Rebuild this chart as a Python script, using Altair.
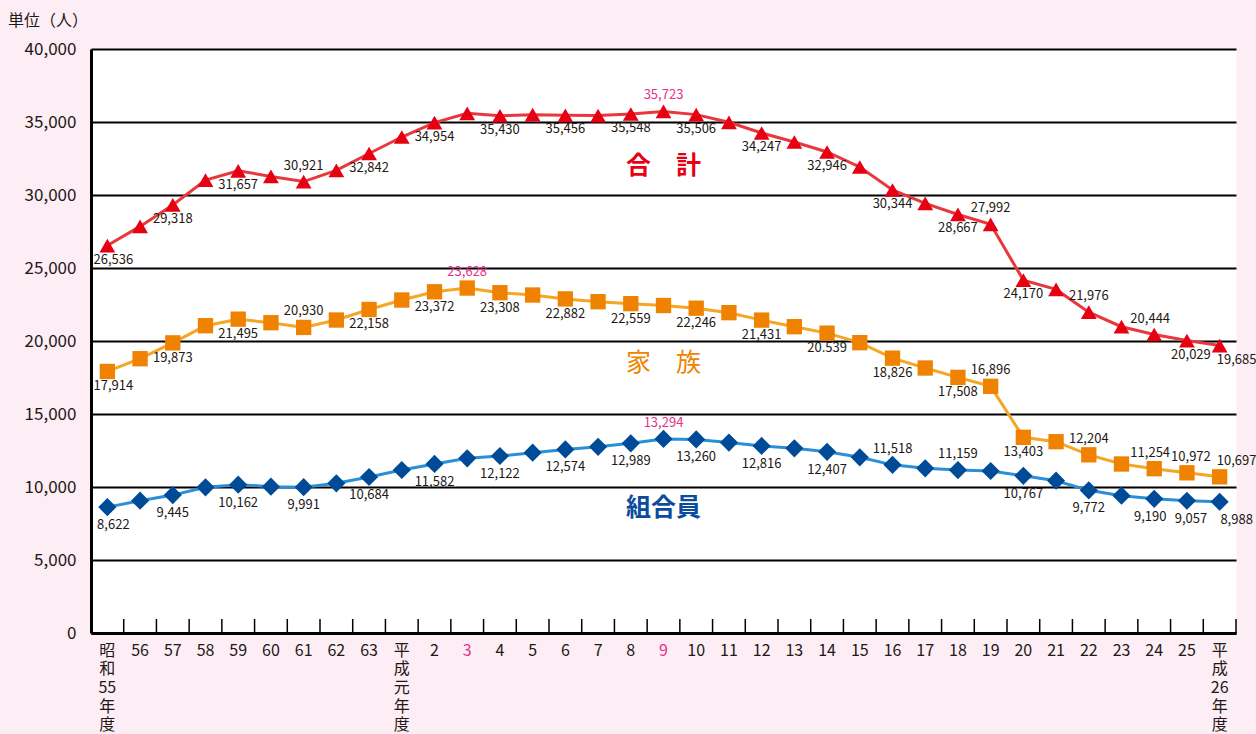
import altair as alt
import pandas as pd

years = ["昭和55年度", "56", "57", "58", "59", "60", "61", "62", "63", "平成元年度",
         "2", "3", "4", "5", "6", "7", "8", "9", "10", "11", "12", "13", "14", "15", "16",
         "17", "18", "19", "20", "21", "22", "23", "24", "25", "平成26年度"]

total = [26536, 27849, 29318, 31023, 31657, 31274, 30921, 31688, 32842, 33971,
         34954, 35591, 35430, 35500, 35456, 35442, 35548, 35723, 35506, 34980,
         34247, 33630, 32946, 31919, 30344, 29430, 28667, 27992, 24170, 23534,
         21976, 20979, 20444, 20029, 19685]
family = [17914, 18787, 19873, 21047, 21495, 21252, 20930, 21437, 22158, 22807,
          23372, 23628, 23308, 23150, 22882, 22692, 22559, 22429, 22246, 21940,
          21431, 20980, 20539, 19885, 18826, 18150, 17508, 16896, 13403, 13103,
          12204, 11575, 11254, 10972, 10697]
members = [8622, 9062, 9445, 9976, 10162, 10022, 9991, 10251, 10684, 11164,
           11582, 11963, 12122, 12350, 12574, 12750, 12989, 13294, 13260, 13040,
           12816, 12650, 12407, 12034, 11518, 11280, 11159, 11096, 10767, 10431,
           9772, 9404, 9190, 9057, 8988]

# indices of points that carry a value label, those placed above, and the peak
tot_labeled = [0, 2, 4, 6, 8, 10, 12, 14, 16, 17, 18, 20, 22, 24, 26, 27, 28, 30, 32, 33, 34]
tot_above = [6, 17, 27, 30, 32]
tot_peak = 17
fam_labeled = [0, 2, 4, 6, 8, 10, 11, 12, 14, 16, 18, 20, 22, 24, 26, 27, 28, 30, 32, 33, 34]
fam_above = [6, 11, 27, 30, 32, 33, 34]
fam_peak = 11
fam_text_override = {22: "20.539"}
mem_labeled = [0, 2, 4, 6, 8, 10, 12, 14, 16, 17, 18, 20, 22, 24, 26, 28, 30, 32, 33, 34]
mem_above = [17, 24, 26]
mem_peak = 17

series_names = ["合計", "家族", "組合員"]
annot_text = ["合　計", "家　族", "組合員"]
annot_year = ["9", "9", "9"]
annot_value = [32000, 18500, 8560]

FONT = "Noto Sans CJK JP"
TXT = "#231815"
PINK = "#e8308a"
W, H = 1145, 584
N = len(years)

styles = {
    "合計": dict(line="#e8383d", mark="#e60012", shape="triangle-up", size=250, below=14, weight="bold", tcol="#e60012"),
    "家族": dict(line="#f5a623", mark="#ef8200", shape="square", size=235, below=15, weight="normal", tcol="#f08300"),
    "組合員": dict(line="#2a8fd6", mark="#004b97", shape="diamond", size=330, below=18, weight="bold", tcol="#0d4c9c"),
}
# horizontal nudges of value labels by point index (style, not data)
label_dx = {0: 6, N - 3: -4, N - 2: 4, N - 1: 17}

data = {"合計": total, "家族": family, "組合員": members}
meta = {
    "合計": (tot_labeled, tot_above, tot_peak, {}),
    "家族": (fam_labeled, fam_above, fam_peak, fam_text_override),
    "組合員": (mem_labeled, mem_above, mem_peak, {}),
}

xsort = years
xscale = alt.Scale(type="band", paddingInner=0, paddingOuter=0, domain=years)
yscale = alt.Scale(domain=[0, 40000], nice=False)

label_expr = ("datum.value == '昭和55年度' ? ['昭','和','55','年','度'] : "
              "datum.value == '平成元年度' ? ['平','成','元','年','度'] : "
              "datum.value == '平成26年度' ? ['平','成','26','年','度'] : datum.value")

x_axis = alt.Axis(
    title=None, labelAngle=0, labelFontSize=16, labelFont=FONT, labelPadding=9,
    labelLineHeight=18.7, labelExpr=label_expr, labelLimit=0,
    labelColor=alt.condition("datum.value == '3' || datum.value == '9'", alt.value(PINK), alt.value(TXT)),
    ticks=False, domainColor="black", domainWidth=3, grid=False,
)
y_axis = alt.Axis(
    title=None, values=list(range(0, 40001, 5000)), format=",.0f", labelFontSize=17,
    labelFont=FONT, labelColor=TXT, labelPadding=15, ticks=False,
    domainColor="black", domainWidth=3, grid=True, gridColor="black", gridWidth=2,
)

layers = []

# inner tick marks along the bottom axis
tick_df = pd.DataFrame({"year": years})
layers.append(
    alt.Chart(tick_df).mark_rule(color="black", strokeWidth=1.5).encode(
        x=alt.X("year:N", sort=xsort, scale=xscale, axis=x_axis, bandPosition=1),
        y=alt.value(H - 14), y2=alt.value(H),
    )
)

for name in series_names:
    st = styles[name]
    vals = data[name]
    df = pd.DataFrame({"year": years, "value": vals})
    enc_x = alt.X("year:N", sort=xsort, scale=xscale, axis=x_axis, bandPosition=0.5)
    enc_y = alt.Y("value:Q", scale=yscale, axis=y_axis)
    layers.append(alt.Chart(df).mark_line(color=st["line"], strokeWidth=3).encode(x=enc_x, y=enc_y))
    layers.append(alt.Chart(df).mark_point(shape=st["shape"], size=st["size"], filled=True,
                                           color=st["mark"], opacity=1).encode(x=enc_x, y=enc_y))

    labeled, above, peak, override = meta[name]
    groups = {}
    for i in labeled:
        txt = override.get(i, f"{vals[i]:,}")
        place = "above" if i in above else "below"
        dx = label_dx.get(i, 0)
        col = PINK if i == peak else TXT
        groups.setdefault((place, dx), []).append(
            {"year": years[i], "value": vals[i], "label": txt, "col": col})
    for (place, dx), rows in groups.items():
        ldf = pd.DataFrame(rows)
        dy = -16 if place == "above" else st["below"]
        layers.append(
            alt.Chart(ldf).mark_text(fontSize=13, font=FONT, dx=dx, dy=dy, baseline="middle",
                                     align="center").encode(
                x=alt.X("year:N", sort=xsort, scale=xscale, axis=x_axis, bandPosition=0.5),
                y=alt.Y("value:Q", scale=yscale, axis=y_axis),
                text="label:N",
                color=alt.Color("col:N", scale=None),
            )
        )

# series name annotations
for k, name in enumerate(series_names):
    st = styles[name]
    adf = pd.DataFrame({"year": [annot_year[k]], "value": [annot_value[k]], "t": [annot_text[k]]})
    layers.append(
        alt.Chart(adf).mark_text(fontSize=25, font=FONT, fontWeight=st["weight"], color=st["tcol"],
                                 baseline="middle", align="center").encode(
            x=alt.X("year:N", sort=xsort, scale=xscale, axis=x_axis, bandPosition=0.5),
            y=alt.Y("value:Q", scale=yscale, axis=y_axis),
            text="t:N",
        )
    )

# unit caption
unit_df = pd.DataFrame({"t": ["単位（人）"]})
layers.append(
    alt.Chart(unit_df).mark_text(fontSize=16, font=FONT, color=TXT, align="left", baseline="middle").encode(
        x=alt.value(-83), y=alt.value(-28), text="t:N"
    )
)

chart = alt.layer(*layers).properties(
    width=W, height=H,
    autosize=alt.AutoSizeParams(type="none"),
    padding={"left": 91, "top": 49, "right": 20, "bottom": 101},
    background="#fdedf4",
).configure_view(fill="white", stroke="transparent")

chart.save("out.html", embed_options={"renderer": "svg", "actions": False})
